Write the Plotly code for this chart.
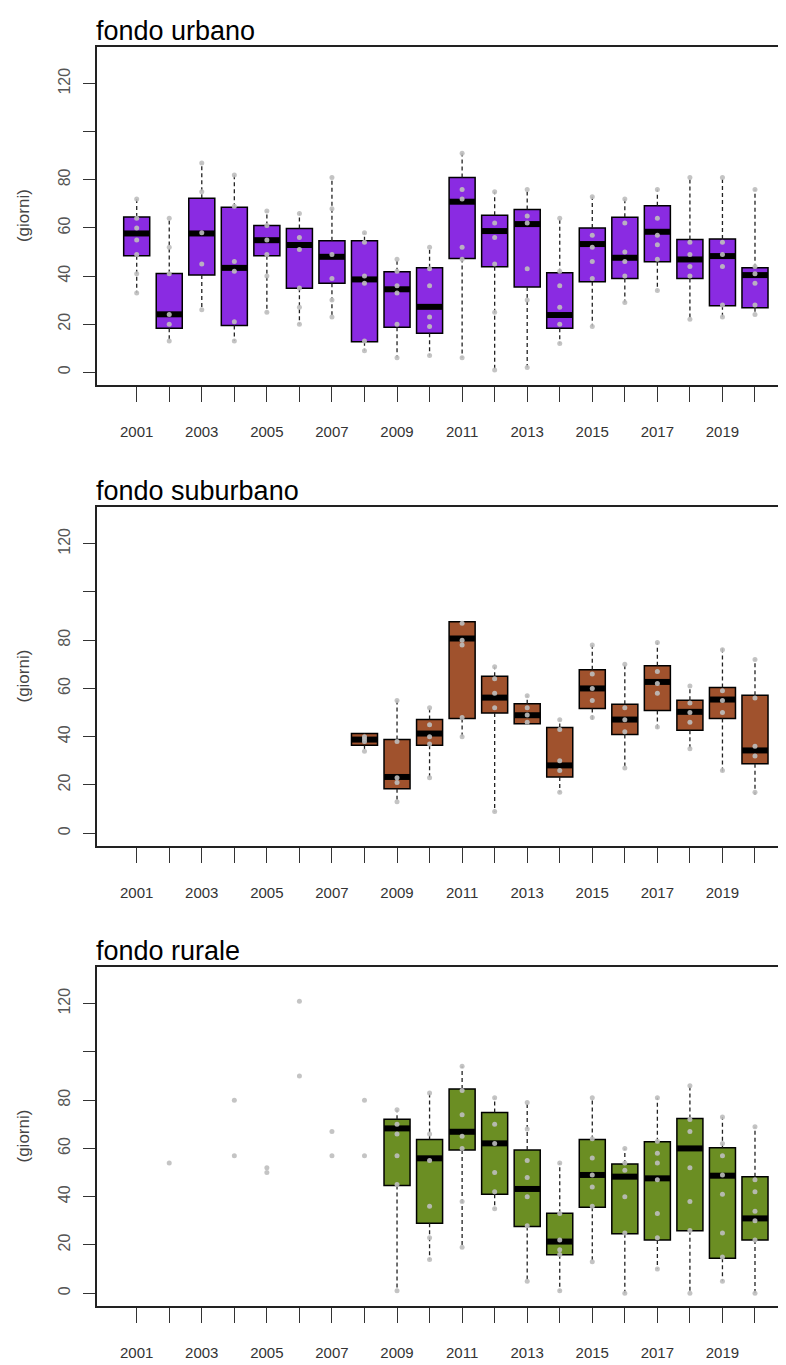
import plotly.graph_objects as go

YEARS = list(range(2001, 2021))
TICK_TEXT = [str(y) if y % 2 == 1 else "" for y in YEARS]

# ---- fondo urbano ----
urb_lo  = [33, 13, 26, 13, 25, 20, 23, 9, 6, 7, 6, 1, 2, 12, 19, 29, 34, 22, 23, 24]
urb_q1  = [48.4, 18.3, 40.4, 19.4, 48.4, 34.9, 37.0, 12.7, 18.7, 16.2, 47.3, 43.9, 35.5, 18.3, 37.6, 39.0, 45.9, 39.0, 27.7, 26.8]
urb_med = [57.7, 24.1, 57.7, 43.4, 54.9, 52.9, 48.0, 38.6, 34.5, 27.2, 70.9, 58.7, 61.6, 23.8, 53.3, 47.6, 58.4, 46.9, 48.3, 40.4]
urb_q3  = [64.5, 41.1, 72.3, 68.6, 61.0, 59.8, 54.7, 54.7, 41.8, 43.4, 81.0, 65.3, 67.7, 41.4, 60.0, 64.4, 69.2, 55.2, 55.4, 43.4]
urb_hi  = [72, 64, 87, 82, 67, 66, 81, 58, 47, 52, 91, 75, 76, 64, 73, 72, 76, 81, 81, 76]
urb_pts = [
    [72, 64, 60, 55, 49, 41, 33], [64, 52, 41, 24, 20, 13], [87, 75, 58, 45, 26],
    [82, 69, 46, 42, 21, 13], [67, 61, 55, 49, 40, 25], [66, 56, 51, 35, 27, 20],
    [81, 68, 49, 39, 30, 23], [58, 54, 40, 37, 13, 9], [47, 42, 36, 33, 20, 6],
    [52, 43, 36, 23, 19, 7], [91, 76, 72, 52, 47, 6], [75, 62, 56, 45, 25, 1],
    [76, 65, 62, 43, 30, 2], [64, 42, 36, 27, 20, 12], [73, 57, 52, 46, 39, 19],
    [72, 62, 50, 46, 40, 29], [76, 64, 57, 53, 47, 34], [81, 54, 49, 44, 40, 22],
    [81, 54, 49, 44, 28, 23], [76, 44, 41, 37, 28, 24],
]

# ---- fondo suburbano ----
sub_lo  = [None]*7 + [34, 13, 23, 40, 9, 45, 17, 47, 27, 43, 34, 25, 16]
sub_q1  = [None]*7 + [36.4, 18.4, 36.4, 47.5, 49.8, 45.4, 23.3, 51.7, 40.9, 50.9, 42.7, 47.5, 28.8]
sub_med = [None]*7 + [38.8, 23.3, 41.3, 80.7, 56.2, 48.9, 28.1, 60.0, 47.1, 62.7, 50.3, 55.4, 34.3]
sub_q3  = [None]*7 + [41.3, 38.8, 47.1, 87.6, 65.1, 53.7, 43.8, 67.8, 53.4, 69.4, 55.1, 60.4, 57.2]
sub_hi  = [None]*7 + [41.5, 55, 52, 88, 69, 57, 47, 78, 70, 79, 61, 77, 72]
sub_pts = [[]]*7 + [
    [40, 39, 38, 34], [55, 38, 23, 21, 13], [52, 45, 40, 37, 23], [87, 80, 78, 48, 40],
    [69, 64, 58, 52, 9], [57, 52, 49, 46], [47, 43, 30, 26, 17], [78, 66, 60, 55, 48],
    [70, 52, 47, 42, 27], [79, 67, 62, 58, 44], [61, 54, 50, 46, 35], [76, 59, 55, 50, 26],
    [72, 56, 36, 32, 17],
]

# ---- fondo rurale ----
rur_lo  = [None]*8 + [1, 14, 19, 35, 5, 1, 13, 0, 10, 0, 5, 0]
rur_q1  = [None]*8 + [44.6, 29.0, 59.3, 41.0, 27.6, 15.9, 35.6, 24.6, 22.1, 25.9, 14.5, 22.1]
rur_med = [None]*8 + [68.3, 55.9, 66.9, 62.1, 43.2, 21.4, 49.0, 48.3, 47.6, 60.0, 48.7, 31.0]
rur_q3  = [None]*8 + [72.1, 63.7, 84.6, 74.9, 59.3, 33.1, 63.7, 53.5, 62.8, 72.4, 60.3, 48.3]
rur_hi  = [None]*8 + [76, 83, 94, 81, 79, 54, 81, 60, 81, 86, 73, 69]
rur_pts = [
    [], [54], [], [80, 57], [52, 50], [121, 90], [67, 57], [80, 57],
    [76, 70, 66, 57, 45, 1], [83, 66, 55, 36, 23, 14], [94, 84, 74, 65, 60, 38, 19],
    [81, 70, 62, 50, 42, 35], [79, 68, 55, 48, 40, 28, 5], [54, 33, 22, 18, 16, 1],
    [81, 64, 56, 49, 44, 36, 13], [60, 54, 51, 40, 25, 0], [81, 63, 58, 54, 47, 33, 23, 10],
    [86, 72, 67, 52, 38, 26, 0], [73, 62, 57, 49, 41, 25, 15, 5], [69, 47, 42, 34, 30, 22, 0],
]

PANELS = [
    ("fondo urbano", "#8A2BE2", urb_lo, urb_q1, urb_med, urb_q3, urb_hi, urb_pts),
    ("fondo suburbano", "#A0522D", sub_lo, sub_q1, sub_med, sub_q3, sub_hi, sub_pts),
    ("fondo rurale", "#6B8E23", rur_lo, rur_q1, rur_med, rur_q3, rur_hi, rur_pts),
]

DOMAINS = [(0.7315, 1.0), (0.3654, 0.6346), (0.0, 0.2693)]
BOXW = 0.8
FONT = "Liberation Sans, Arial, sans-serif"

fig = go.Figure()
annotations = []
for i, (title, color, lo, q1, med, q3, hi, pts) in enumerate(PANELS):
    n = i + 1
    xa = "x" if n == 1 else f"x{n}"
    ya = "y" if n == 1 else f"y{n}"
    bx = [y for y, q in zip(YEARS, q1) if q is not None]
    b1 = [q for q in q1 if q is not None]
    b3 = [q for q in q3 if q is not None]
    # boxes
    fig.add_trace(go.Bar(
        x=bx, base=b1, y=[c - a for a, c in zip(b1, b3)], width=BOXW,
        marker=dict(color=color, line=dict(color="black", width=1.5)),
        xaxis=xa, yaxis=ya, showlegend=False, hoverinfo="skip"))
    # whiskers
    wx, wy = [], []
    for y, a, b, c, d in zip(YEARS, lo, q1, q3, hi):
        if b is None:
            continue
        wx += [y, y, None, y, y, None]
        wy += [c, d, None, b, a, None]
    fig.add_trace(go.Scatter(
        x=wx, y=wy, mode="lines", line=dict(color="#222222", width=1.3, dash="4px,3px"),
        xaxis=xa, yaxis=ya, showlegend=False, hoverinfo="skip"))
    # medians
    mx, my = [], []
    for y, m in zip(YEARS, med):
        if m is None:
            continue
        mx += [y - BOXW / 2, y + BOXW / 2, None]
        my += [m, m, None]
    fig.add_trace(go.Scatter(
        x=mx, y=my, mode="lines", line=dict(color="black", width=6),
        xaxis=xa, yaxis=ya, showlegend=False, hoverinfo="skip"))
    # points
    px, py = [], []
    for y, vals in zip(YEARS, pts):
        for v in vals:
            px.append(y)
            py.append(v)
    fig.add_trace(go.Scatter(
        x=px, y=py, mode="markers",
        marker=dict(color="rgba(190,190,190,0.9)", size=5),
        xaxis=xa, yaxis=ya, showlegend=False, hoverinfo="skip"))

    d0, d1 = DOMAINS[i]
    xkey = "xaxis" if n == 1 else f"xaxis{n}"
    ykey = "yaxis" if n == 1 else f"yaxis{n}"
    fig.layout[xkey] = dict(
        domain=[0, 1], anchor=ya, range=[1999.78, 2020.83], automargin=False,
        tickvals=YEARS, ticktext=TICK_TEXT, ticks="outside", ticklen=15, tickwidth=1.2,
        tickcolor="#333", showline=True, mirror=True, linecolor="#222", linewidth=1.5,
        showgrid=False, zeroline=False, ticklabelstandoff=17,
        tickfont=dict(family=FONT, size=15, color="#333"))
    fig.layout[ykey] = dict(
        domain=[d0, d1], anchor=xa, range=[-5.3, 135.2], automargin=False,
        tickvals=[0, 20, 40, 60, 80, 100, 120], ticktext=["0", "20", "40", "60", "80", "", "120"],
        ticks="outside", ticklen=12, tickwidth=1.2, tickcolor="#333", tickangle=-90,
        showline=True, mirror=True, linecolor="#222", linewidth=1.5,
        showgrid=False, zeroline=False, ticklabelstandoff=7,
        tickfont=dict(family=FONT, size=16, color="#555"))
    annotations.append(dict(
        text=title, xref="paper", yref="paper", x=0, y=d1, xanchor="left", yanchor="bottom",
        xshift=-3, yshift=-1, showarrow=False, font=dict(family=FONT, size=27, color="black")))
    annotations.append(dict(
        text="(giorni)", xref="paper", yref="paper", x=-0.108, y=(d0 + d1) / 2,
        xanchor="center", yanchor="middle", textangle=-90, showarrow=False,
        font=dict(family=FONT, size=17, color="#444")))

# page body keeps an 8px default margin; margins compensate for that offset
fig.update_layout(
    width=778, height=1357, margin=dict(l=89, r=4, t=39, b=59),
    paper_bgcolor="white", plot_bgcolor="white", barmode="overlay",
    annotations=annotations, showlegend=False)

fig.write_html("out.html")
